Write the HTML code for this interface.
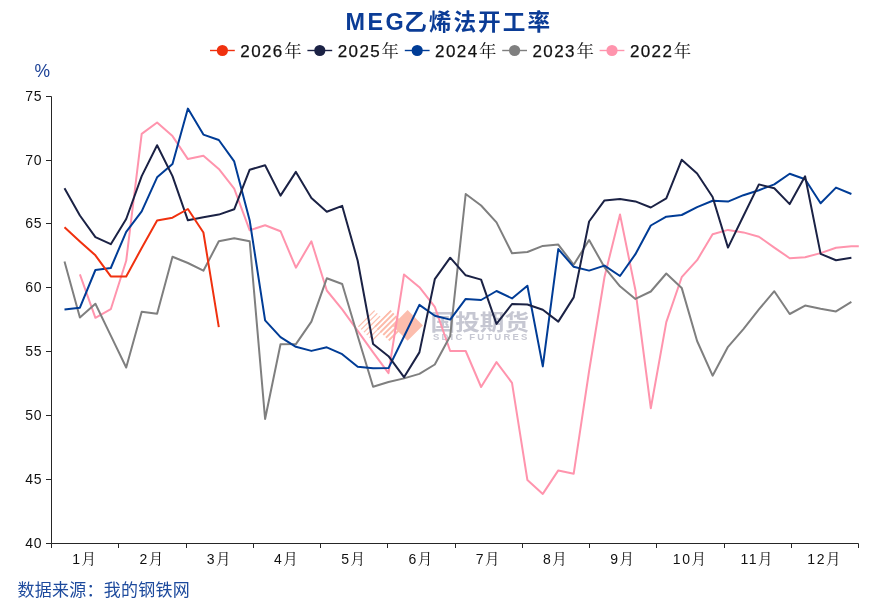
<!DOCTYPE html>
<html lang="zh-CN"><head><meta charset="utf-8"><title>MEG乙烯法开工率</title>
<style>
html,body{margin:0;padding:0;background:#fff;}
body{width:875px;height:613px;overflow:hidden;position:relative;font-family:"Liberation Sans","Noto Sans CJK SC",sans-serif;}
svg{position:absolute;left:0;top:0;display:block;}
.t{font-family:"Liberation Sans","Noto Sans CJK SC",sans-serif;}
.k{font-family:"Liberation Sans","Noto Serif CJK SC",serif;}
</style></head><body>
<svg width="875" height="613" viewBox="0 0 875 613">
<defs>
<clipPath id="plot"><rect x="51.5" y="90" width="807.3" height="454"/></clipPath>
<clipPath id="d1"><polygon points="357.7,325.9 373.8,309.8 389.9,325.9 373.8,342"/></clipPath>
<clipPath id="d2"><polygon points="374.2,325.9 390.3,309.8 406.4,325.9 390.3,342"/></clipPath>
</defs>
<rect width="875" height="613" fill="#fff"/>
<text class="t" x="345.4" y="30.0" font-weight="700" fill="#0b3c96"><tspan font-size="23.4" letter-spacing="2.5">MEG</tspan><tspan font-size="22.6" letter-spacing="2.05" dx="-2">乙烯法开工率</tspan></text>
<line x1="210.0" y1="50.5" x2="234.8" y2="50.5" stroke="#f0310f" stroke-width="1.4"/><circle cx="222.4" cy="50.5" r="5.6" fill="#f0310f"/><text class="k" x="240.3" y="56.7" font-size="17" fill="#111111"><tspan letter-spacing="1.4" stroke="#111111" stroke-width="0.25">2026</tspan><tspan font-size="17.5" dx="0.5">年</tspan></text>
<line x1="307.4" y1="50.5" x2="332.2" y2="50.5" stroke="#1b2245" stroke-width="1.4"/><circle cx="319.8" cy="50.5" r="5.6" fill="#1b2245"/><text class="k" x="337.7" y="56.7" font-size="17" fill="#111111"><tspan letter-spacing="1.4" stroke="#111111" stroke-width="0.25">2025</tspan><tspan font-size="17.5" dx="0.5">年</tspan></text>
<line x1="404.8" y1="50.5" x2="429.6" y2="50.5" stroke="#003c96" stroke-width="1.4"/><circle cx="417.2" cy="50.5" r="5.6" fill="#003c96"/><text class="k" x="435.1" y="56.7" font-size="17" fill="#111111"><tspan letter-spacing="1.4" stroke="#111111" stroke-width="0.25">2024</tspan><tspan font-size="17.5" dx="0.5">年</tspan></text>
<line x1="502.2" y1="50.5" x2="527.0" y2="50.5" stroke="#7f7f7f" stroke-width="1.4"/><circle cx="514.6" cy="50.5" r="5.6" fill="#7f7f7f"/><text class="k" x="532.5" y="56.7" font-size="17" fill="#111111"><tspan letter-spacing="1.4" stroke="#111111" stroke-width="0.25">2023</tspan><tspan font-size="17.5" dx="0.5">年</tspan></text>
<line x1="599.6" y1="50.5" x2="624.4" y2="50.5" stroke="#ff94ad" stroke-width="1.4"/><circle cx="612.0" cy="50.5" r="5.6" fill="#ff94ad"/><text class="k" x="629.9" y="56.7" font-size="17" fill="#111111"><tspan letter-spacing="1.4" stroke="#111111" stroke-width="0.25">2022</tspan><tspan font-size="17.5" dx="0.5">年</tspan></text>
<text class="t" x="34.4" y="76.9" font-size="17.5" fill="#1b4096">%</text>
<g><path d="M325.2,360 L395.2,290 M330.7,360 L400.7,290 M336.2,360 L406.2,290 M341.7,360 L411.7,290 M347.2,360 L417.2,290 M352.7,360 L422.7,290 M358.2,360 L428.2,290 M363.7,360 L433.7,290 M369.2,360 L439.2,290 M374.7,360 L444.7,290 M380.2,360 L450.2,290 M385.7,360 L455.7,290 M391.2,360 L461.2,290" stroke="#fcc0b1" stroke-width="1.2" fill="none" clip-path="url(#d1)"/><path d="M325.2,360 L395.2,290 M330.7,360 L400.7,290 M336.2,360 L406.2,290 M341.7,360 L411.7,290 M347.2,360 L417.2,290 M352.7,360 L422.7,290 M358.2,360 L428.2,290 M363.7,360 L433.7,290 M369.2,360 L439.2,290 M374.7,360 L444.7,290 M380.2,360 L450.2,290 M385.7,360 L455.7,290 M391.2,360 L461.2,290" stroke="#fcbcab" stroke-width="2" fill="none" clip-path="url(#d2)"/><polygon points="392.3,325.4 407.6,310.1 422.9,325.4 407.6,340.7" fill="#fcbdad"/><text class="t" transform="translate(430.6,330.3) scale(1.14,1)" font-size="21.6" font-weight="700" fill="#c6c7d2">国投期货</text><text class="t" transform="translate(433,339.6) scale(1.12,1)" font-size="8.5" font-weight="700" fill="#c6c7d2" letter-spacing="1.95">SDIC FUTURES</text></g>
<g fill="none" stroke-width="2" stroke-linejoin="round" stroke-linecap="butt" clip-path="url(#plot)">
<path d="M79.9,274.4 L95.4,317.8 L110.8,309.2 L126.2,260.8 L141.7,133.9 L157.1,122.5 L172.5,136.1 L187.9,159.1 L203.4,155.8 L218.8,168.9 L234.2,188.6 L249.7,230.3 L265.1,225.2 L280.5,231.2 L295.9,267.7 L311.4,241.3 L326.8,290.5 L342.2,309.4 L357.7,330.9 L373.1,352.4 L388.5,373.1 L404.0,274.5 L419.4,287.2 L434.8,306.9 L450.2,351.0 L465.7,351.0 L481.1,387.0 L496.5,362.1 L512.0,382.8 L527.4,480.0 L542.8,493.9 L558.3,470.4 L573.7,473.7 L589.1,371.0 L604.5,277.0 L620.0,214.5 L635.4,290.0 L650.8,408.2 L666.3,322.1 L681.7,277.2 L697.1,260.2 L712.6,234.2 L728.0,229.9 L743.4,232.4 L758.9,236.7 L774.3,247.6 L789.7,258.2 L805.1,257.2 L820.6,253.1 L836.0,247.8 L851.4,246.3 L866.9,246.0" stroke="#ff94ad"/>
<path d="M64.5,261.5 L79.9,317.6 L95.4,303.7 L110.8,335.6 L126.2,367.5 L141.7,311.8 L157.1,313.8 L172.5,256.8 L187.9,263.0 L203.4,270.7 L218.8,241.3 L234.2,238.3 L249.7,241.3 L265.1,419.0 L280.5,344.3 L295.9,344.1 L311.4,321.6 L326.8,278.3 L342.2,284.0 L357.7,336.0 L373.1,386.8 L388.5,382.0 L404.0,378.4 L419.4,373.9 L434.8,364.5 L450.2,336.0 L465.7,194.0 L481.1,205.5 L496.5,222.4 L512.0,253.2 L527.4,252.0 L542.8,245.9 L558.3,244.6 L573.7,264.8 L589.1,240.0 L604.5,267.3 L620.0,286.3 L635.4,298.9 L650.8,291.5 L666.3,273.5 L681.7,287.9 L697.1,341.0 L712.6,375.7 L728.0,346.8 L743.4,329.1 L758.9,309.4 L774.3,291.2 L789.7,314.0 L805.1,305.6 L820.6,308.7 L836.0,311.4 L851.4,301.8" stroke="#7f7f7f"/>
<path d="M64.5,309.5 L79.9,307.7 L95.4,270.0 L110.8,268.0 L126.2,231.8 L141.7,211.4 L157.1,177.3 L172.5,163.9 L187.9,108.6 L203.4,134.6 L218.8,140.0 L234.2,161.4 L249.7,220.5 L265.1,320.3 L280.5,337.2 L295.9,346.8 L311.4,350.9 L326.8,347.3 L342.2,354.2 L357.7,366.8 L373.1,368.3 L388.5,368.1 L404.0,336.5 L419.4,304.9 L434.8,315.7 L450.2,319.6 L465.7,298.9 L481.1,300.0 L496.5,291.0 L512.0,298.4 L527.4,285.7 L542.8,366.4 L558.3,249.1 L573.7,266.8 L589.1,270.6 L604.5,265.6 L620.0,276.0 L635.4,254.2 L650.8,225.5 L666.3,216.7 L681.7,215.0 L697.1,207.1 L712.6,200.8 L728.0,201.6 L743.4,195.2 L758.9,190.2 L774.3,184.4 L789.7,173.7 L805.1,179.3 L820.6,203.3 L836.0,187.6 L851.4,194.0" stroke="#003c96"/>
<path d="M64.5,188.2 L79.9,215.5 L95.4,237.2 L110.8,244.2 L126.2,219.0 L141.7,176.1 L157.1,145.2 L172.5,176.1 L187.9,220.3 L203.4,217.2 L218.8,214.6 L234.2,209.3 L249.7,169.7 L265.1,165.2 L280.5,195.6 L295.9,171.9 L311.4,197.9 L326.8,211.7 L342.2,205.9 L357.7,260.8 L373.1,344.0 L388.5,356.2 L404.0,377.2 L419.4,352.4 L434.8,279.2 L450.2,257.7 L465.7,275.3 L481.1,279.6 L496.5,323.9 L512.0,304.0 L527.4,304.5 L542.8,309.7 L558.3,321.6 L573.7,297.4 L589.1,221.5 L604.5,200.4 L620.0,199.1 L635.4,201.4 L650.8,207.5 L666.3,198.3 L681.7,159.8 L697.1,173.5 L712.6,197.0 L728.0,247.6 L743.4,216.0 L758.9,184.4 L774.3,188.2 L789.7,204.1 L805.1,176.3 L820.6,253.9 L836.0,260.2 L851.4,257.7" stroke="#1b2245"/>
<path d="M64.5,227.2 L79.9,241.4 L95.4,255.3 L110.8,276.4 L126.2,276.4 L141.7,248.0 L157.1,220.5 L172.5,217.7 L187.9,209.0 L203.4,232.5 L218.8,327.1" stroke="#f0310f"/>
</g>
<path d="M51.5,96.5 V543.5 H858.5" fill="none" stroke="#262626" stroke-width="1"/>
<path d="M46.0,543.5 H51.5 M46.0,479.5 H51.5 M46.0,415.5 H51.5 M46.0,351.5 H51.5 M46.0,287.5 H51.5 M46.0,223.5 H51.5 M46.0,160.5 H51.5 M46.0,96.5 H51.5 M51.5,543.5 V548.0 M118.5,543.5 V548.0 M186.5,543.5 V548.0 M253.5,543.5 V548.0 M320.5,543.5 V548.0 M387.5,543.5 V548.0 M455.5,543.5 V548.0 M522.5,543.5 V548.0 M589.5,543.5 V548.0 M656.5,543.5 V548.0 M724.5,543.5 V548.0 M791.5,543.5 V548.0 M858.5,543.5 V548.0" fill="none" stroke="#262626" stroke-width="1"/>
<text class="t" x="42.2" y="548.2" text-anchor="end" font-size="14" fill="#111111" letter-spacing="0.7">40</text><text class="t" x="42.2" y="484.2" text-anchor="end" font-size="14" fill="#111111" letter-spacing="0.7">45</text><text class="t" x="42.2" y="420.2" text-anchor="end" font-size="14" fill="#111111" letter-spacing="0.7">50</text><text class="t" x="42.2" y="356.2" text-anchor="end" font-size="14" fill="#111111" letter-spacing="0.7">55</text><text class="t" x="42.2" y="292.2" text-anchor="end" font-size="14" fill="#111111" letter-spacing="0.7">60</text><text class="t" x="42.2" y="228.2" text-anchor="end" font-size="14" fill="#111111" letter-spacing="0.7">65</text><text class="t" x="42.2" y="165.2" text-anchor="end" font-size="14" fill="#111111" letter-spacing="0.7">70</text><text class="t" x="42.2" y="101.2" text-anchor="end" font-size="14" fill="#111111" letter-spacing="0.7">75</text>
<text class="k" x="84.1" y="564.2" text-anchor="middle" font-size="14" fill="#111111"><tspan letter-spacing="1.5">1</tspan><tspan font-size="14.5">月</tspan></text><text class="k" x="151.4" y="564.2" text-anchor="middle" font-size="14" fill="#111111"><tspan letter-spacing="1.5">2</tspan><tspan font-size="14.5">月</tspan></text><text class="k" x="218.6" y="564.2" text-anchor="middle" font-size="14" fill="#111111"><tspan letter-spacing="1.5">3</tspan><tspan font-size="14.5">月</tspan></text><text class="k" x="285.9" y="564.2" text-anchor="middle" font-size="14" fill="#111111"><tspan letter-spacing="1.5">4</tspan><tspan font-size="14.5">月</tspan></text><text class="k" x="353.1" y="564.2" text-anchor="middle" font-size="14" fill="#111111"><tspan letter-spacing="1.5">5</tspan><tspan font-size="14.5">月</tspan></text><text class="k" x="420.4" y="564.2" text-anchor="middle" font-size="14" fill="#111111"><tspan letter-spacing="1.5">6</tspan><tspan font-size="14.5">月</tspan></text><text class="k" x="487.6" y="564.2" text-anchor="middle" font-size="14" fill="#111111"><tspan letter-spacing="1.5">7</tspan><tspan font-size="14.5">月</tspan></text><text class="k" x="554.9" y="564.2" text-anchor="middle" font-size="14" fill="#111111"><tspan letter-spacing="1.5">8</tspan><tspan font-size="14.5">月</tspan></text><text class="k" x="622.1" y="564.2" text-anchor="middle" font-size="14" fill="#111111"><tspan letter-spacing="1.5">9</tspan><tspan font-size="14.5">月</tspan></text><text class="k" x="689.4" y="564.2" text-anchor="middle" font-size="14" fill="#111111"><tspan letter-spacing="1.5">10</tspan><tspan font-size="14.5">月</tspan></text><text class="k" x="756.6" y="564.2" text-anchor="middle" font-size="14" fill="#111111"><tspan letter-spacing="1.5">11</tspan><tspan font-size="14.5">月</tspan></text><text class="k" x="823.9" y="564.2" text-anchor="middle" font-size="14" fill="#111111"><tspan letter-spacing="1.5">12</tspan><tspan font-size="14.5">月</tspan></text>
<text class="t" x="17.4" y="596.4" font-size="17" letter-spacing="0.25" fill="#1d4a9d">数据来源：我的钢铁网</text>
</svg>
</body></html>
